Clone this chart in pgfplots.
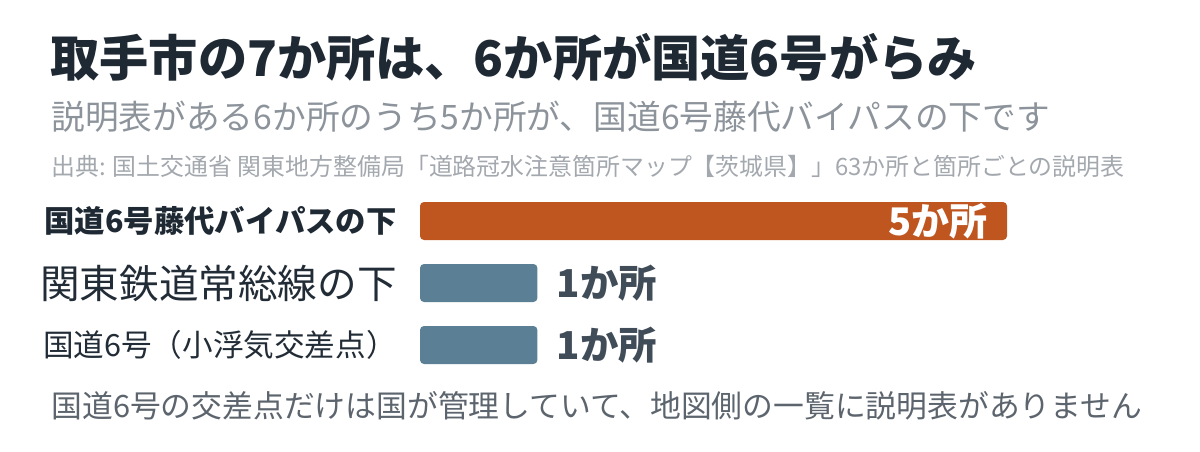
\documentclass[border=0pt]{standalone}
\usepackage{fontspec}
\setmainfont{Noto Sans CJK JP}
\usepackage{pgfplots}
\pgfplotsset{compat=1.18}
\definecolor{titlec}{HTML}{1E2933}
\definecolor{subc}{HTML}{8C939B}
\definecolor{srcc}{HTML}{A3A8AE}
\definecolor{labc}{HTML}{222C36}
\definecolor{valc}{HTML}{414C59}
\definecolor{barO}{HTML}{C0561F}
\definecolor{barB}{HTML}{5B7F94}
\definecolor{footc}{HTML}{5C646D}
\begin{document}
\begin{tikzpicture}[x=0.5bp,y=-0.5bp]
\useasboundingbox (0,0) rectangle (1200,452);
\node[anchor=base west,inner sep=0pt,text=titlec] at (50,77)
  {\bfseries\fontsize{24.6bp}{28bp}\selectfont 取手市の7か所は、6か所が国道6号がらみ};
\node[anchor=base west,inner sep=0pt,text=subc] at (51,130)
  {\fontsize{16.85bp}{20bp}\selectfont 説明表がある6か所のうち5か所が、国道6号藤代バイパスの下です};
\node[anchor=base west,inner sep=0pt,text=srcc] at (51,176)
  {\fontsize{11.95bp}{14bp}\selectfont 出典: 国土交通省 関東地方整備局「道路冠水注意箇所マップ【茨城県】」63か所と箇所ごとの説明表};
\node[anchor=base west,inner sep=0pt,text=footc] at (51,418)
  {\fontsize{15.4bp}{18bp}\selectfont 国道6号の交差点だけは国が管理していて、地図側の一覧に説明表がありません};
\begin{axis}[
  at={(210bp,-95bp)}, anchor=north west,
  scale only axis, width=293.5bp, height=93bp,
  xmin=0, xmax=5, ymin=-0.5, ymax=2.5, y dir=reverse,
  enlargelimits=false, clip=false,
  axis line style={draw=none},
  xtick=\empty, ytick={0,1,2}, major tick length=0pt,
  yticklabels={
    {\color{titlec}\bfseries\fontsize{15.2bp}{18bp}\selectfont 国道6号藤代バイパスの下},
    {\color{labc}\fontsize{19.8bp}{22bp}\selectfont 関東鉄道常総線の下},
    {\color{labc}\fontsize{15.3bp}{18bp}\selectfont 国道6号（小浮気交差点）}},
  yticklabel style={anchor=east, inner sep=0pt, xshift=-11.5bp},
  xbar, bar width=19bp, bar shift=0pt,
]
\addplot[draw=none, fill=barO, rounded corners=2bp,
  nodes near coords={\pgfmathprintnumber[assume math mode=true]{\pgfplotspointmeta}か所},
  nodes near coords style={anchor=east, inner sep=0pt, xshift=-9.5bp, text=white,
    font=\bfseries\fontsize{19bp}{22bp}\selectfont}]
  coordinates {(5,0)};
\addplot[draw=none, fill=barB, rounded corners=2bp,
  nodes near coords={\pgfmathprintnumber[assume math mode=true]{\pgfplotspointmeta}か所},
  nodes near coords style={anchor=west, inner sep=0pt, xshift=9.5bp, text=valc,
    font=\bfseries\fontsize{19.2bp}{22bp}\selectfont}]
  coordinates {(1,1) (1,2)};
\end{axis}
\end{tikzpicture}
\end{document}
